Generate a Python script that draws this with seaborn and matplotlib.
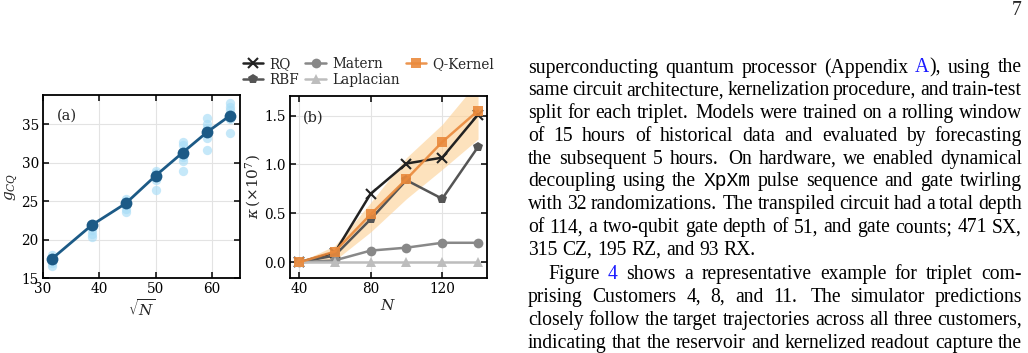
import re
import numpy as np
import pandas as pd
import seaborn as sns
import matplotlib.pyplot as plt

# ---------------------------------------------------------------
# data
# ---------------------------------------------------------------
# panel (a): g_CQ against sqrt(N)
sqrt_n = [31.6, 38.7, 44.7, 50.0, 54.8, 59.2, 63.2]
g_mean = [17.5, 21.9, 24.7, 28.3, 31.3, 34.0, 36.1]
g_runs = [
    [16.5, 17.0, 17.6, 18.0, 17.3],
    [20.3, 20.7, 21.2, 21.8, 22.0],
    [23.6, 24.0, 24.5, 25.0, 25.3],
    [26.4, 27.8, 28.3, 28.7, 28.9],
    [28.9, 30.2, 30.8, 31.5, 32.3, 32.7],
    [31.6, 33.2, 33.8, 34.5, 35.0, 35.8],
    [33.9, 35.7, 36.8, 37.3, 37.7],
]

# panel (b): kappa (x1e7) against N
n_vals = [40, 60, 80, 100, 120, 140]
rq = [0.0, 0.10, 0.70, 1.01, 1.07, 1.51]
rbf = [0.0, 0.07, 0.44, 0.84, 0.65, 1.18]
matern = [0.0, 0.02, 0.12, 0.15, 0.20, 0.20]
laplacian = [0.0, 0.0, 0.0, 0.0, 0.0, 0.0]
qkernel = [0.0, 0.11, 0.49, 0.85, 1.23, 1.55]
qkernel_lo = [0.0, 0.02, 0.31, 0.65, 0.95, 1.26]
qkernel_hi = [0.0, 0.17, 0.61, 1.07, 1.41, 1.85]

# body text on the right of the page
para_lines = [
    "superconducting quantum processor (Appendix {A}), using the",
    "same circuit architecture, kernelization procedure, and train-test",
    "split for each triplet. Models were trained on a rolling window",
    "of 15 hours of historical data and evaluated by forecasting",
    "the subsequent 5 hours. On hardware, we enabled dynamical",
    "decoupling using the [XpXm] pulse sequence and gate twirling",
    "with 32 randomizations. The transpiled circuit had a total depth",
    "of 114, a two-qubit gate depth of 51, and gate counts; 471 SX,",
    "315 CZ, 195 RZ, and 93 RX.",
    "Figure {4} shows a representative example for triplet com-",
    "prising Customers 4, 8, and 11. The simulator predictions",
    "closely follow the target trajectories across all three customers,",
    "indicating that the reservoir and kernelized readout capture the",
]

# ---------------------------------------------------------------
sns.set_theme(style="ticks")
plt.rcParams["font.family"] = ["DejaVu Serif"]
plt.rcParams["mathtext.fontset"] = "dejavuserif"
plt.rcParams["axes.edgecolor"] = "black"
plt.rcParams["axes.linewidth"] = 1.3

W, H = 1028, 353
fig = plt.figure(figsize=(W / 100, H / 100), dpi=100)
ax_a = fig.add_axes([43 / W, 1 - 278 / H, 197 / W, 183 / H])
ax_b = fig.add_axes([290 / W, 1 - 278 / H, 197 / W, 182 / H])

tick_fs = 9.8
lab_fs = 11
for ax in (ax_a, ax_b):
    ax.grid(True, color="#e3e3e3", lw=0.8)
    ax.set_axisbelow(True)
    ax.tick_params(direction="in", top=True, right=True, length=4, width=1.1,
                   labelsize=tick_fs, colors="black", pad=3)

# ---- panel (a)
runs = pd.DataFrame([(x, v) for x, vals in zip(sqrt_n, g_runs) for v in vals],
                    columns=["sqrtN", "g"])
sns.scatterplot(data=runs, x="sqrtN", y="g", ax=ax_a, color="#a7dcf6",
                s=45, alpha=0.65, linewidth=0, zorder=2)
sns.lineplot(x=sqrt_n, y=g_mean, ax=ax_a, color="#1c5a86", lw=2.0,
             marker="o", ms=8.5, mec="#1c5a86", mew=0, zorder=3)
ax_a.set_xlim(30, 65)
ax_a.set_ylim(15, 38.8)
ax_a.set_xticks([30, 40, 50, 60])
ax_a.set_yticks([15, 20, 25, 30, 35])
ax_a.set_xlabel(r"$\sqrt{N}$", fontsize=lab_fs, labelpad=1)
ax_a.set_ylabel(r"$g_{CQ}$", fontsize=lab_fs, labelpad=1)
ax_a.text(0.07, 0.885, "(a)", transform=ax_a.transAxes, fontsize=10.5,
          va="center", ha="left")

# ---- panel (b)
series = [
    ("RQ", rq, "#222222", "x", 7),
    ("RBF", rbf, "#555555", "p", 7.5),
    ("Matern", matern, "#888888", "o", 7),
    ("Laplacian", laplacian, "#bdbdbd", "^", 7.5),
]
for name, vals, col, mk, ms in series:
    sns.lineplot(x=n_vals, y=vals, ax=ax_b, color=col, lw=1.8, marker=mk,
                 ms=ms, mec=col, mew=1.5 if mk == "x" else 0, label=name)
ax_b.fill_between(n_vals, qkernel_lo, qkernel_hi, color="#fdd39a", alpha=0.65,
                  lw=0, zorder=1)
sns.lineplot(x=n_vals, y=qkernel, ax=ax_b, color="#ea8a3c", lw=1.8, marker="s",
             ms=7.5, mec="#ea8a3c", mew=0, alpha=0.9, label="Q-Kernel")
ax_b.set_xlim(35, 145)
ax_b.set_ylim(-0.16, 1.70)
ax_b.set_xticks([40, 80, 120])
ax_b.set_yticks([0.0, 0.5, 1.0, 1.5])
ax_b.set_yticklabels(["0.0", "0.5", "1.0", "1.5"])
ax_b.set_xlabel(r"$N$", fontsize=lab_fs, labelpad=1)
ax_b.set_ylabel(r"$\kappa\,(\times 10^7)$", fontsize=lab_fs, labelpad=1)
ax_b.text(0.066, 0.88, "(b)", transform=ax_b.transAxes, fontsize=10.5,
          va="center", ha="left")

handles, labels = ax_b.get_legend_handles_labels()
ax_b.get_legend().remove()
fig.legend(handles, labels, ncol=3, loc="upper left",
           bbox_to_anchor=(243 / W, 1 - 57 / H), frameon=False,
           fontsize=9.8, handlelength=1.5, handletextpad=0.45,
           columnspacing=0.45, labelspacing=0.15, borderpad=0,
           borderaxespad=0)

# ---- page text, justified by hand
renderer = fig.canvas.get_renderer()
text_fs = 14.1
styles = {
    "n": dict(family=["Liberation Serif"], color="black"),
    "link": dict(family=["Liberation Serif"], color="#1a1aff"),
    "tt": dict(family=["Liberation Mono"], color="black"),
}
x_left, x_right = 528, 1022


def put_line(line, base_y, x0, justify):
    words = []
    for w in line.split():
        segs = []
        for part in re.split(r"(\{[^}]*\}|\[[^\]]*\])", w):
            if not part:
                continue
            if part.startswith("{"):
                segs.append((part[1:-1], "link"))
            elif part.startswith("["):
                segs.append((part[1:-1], "tt"))
            else:
                segs.append((part, "n"))
        texts = [fig.text(0, 1 - base_y / H, s, fontsize=text_fs, va="baseline",
                          ha="left", **styles[k]) for s, k in segs]
        widths = [t.get_window_extent(renderer).width for t in texts]
        words.append((w, texts, widths))
    total = sum(sum(ws) for _, _, ws in words)
    weights = [1.4 if w.endswith(".") else 1.0 for w, _, _ in words[:-1]]
    if justify:
        extra = x_right - x0 - total
    else:
        extra = 0.25 * text_fs * 100 / 72 * sum(weights)
    x = x0
    for i, (w, texts, widths) in enumerate(words):
        for t, wd in zip(texts, widths):
            t.set_x(x / W)
            x += wd
        if i < len(weights):
            x += extra * weights[i] / sum(weights)


step = 22.8
for i, line in enumerate(para_lines):
    y = 72.5 + i * step + (1.5 if i >= 9 else 0)
    x0 = x_left + 20 if i == 9 else x_left
    put_line(line, y, x0, justify=(i != 8))

fig.text(1022 / W, 1 - 15 / H, "7", fontsize=text_fs, ha="right",
         va="baseline", family=["Liberation Serif"])

fig.savefig("out.png", dpi=100)
